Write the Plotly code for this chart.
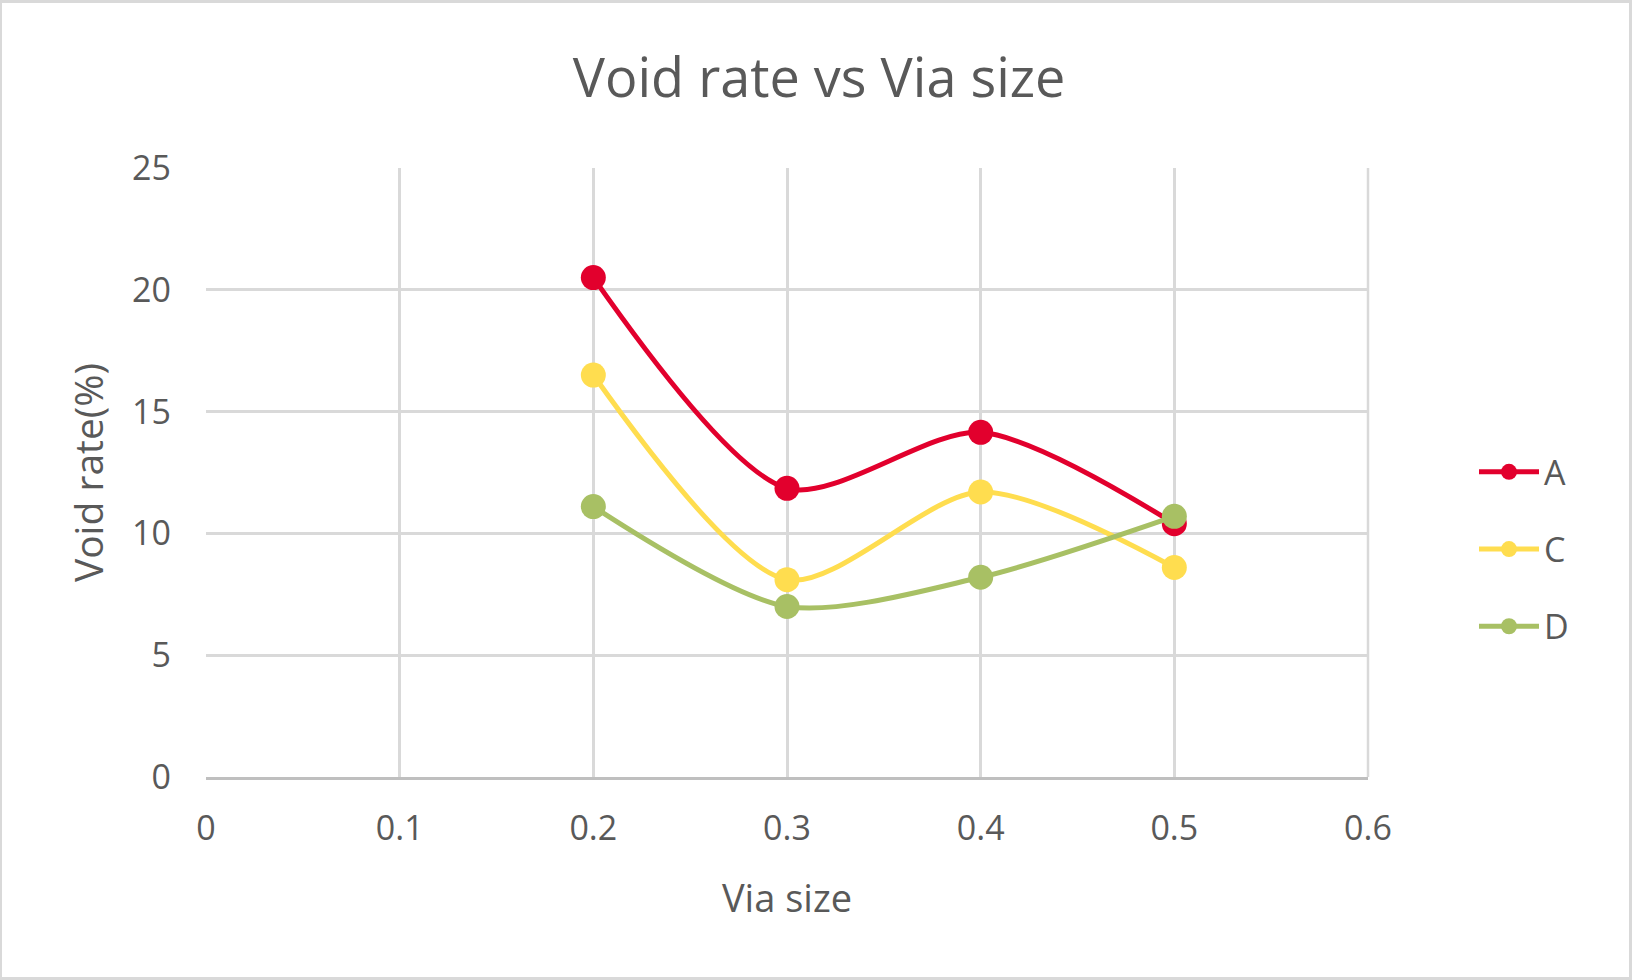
import plotly.graph_objects as go

# Via sizes and measured void rates (%) for each sample group
via_size = [0.2, 0.3, 0.4, 0.5]
void_a = [20.5, 11.85, 14.15, 10.4]
void_c = [16.5, 8.1, 11.7, 8.6]
void_d = [11.1, 7.0, 8.2, 10.7]

series = [
    ("A", void_a, "#E2002D"),
    ("C", void_c, "#FFDD4F"),
    ("D", void_d, "#A8C064"),
]

W, H = 1632, 980
ML, MR, MT, MB = 206, 264, 168, 203
TEXT = "#595959"
GRID = "#D9D9D9"
FONT = "Open Sans"

fig = go.Figure()
for name, vals, color in series:
    fig.add_trace(go.Scatter(
        x=via_size, y=vals, name=name, legendgroup=name,
        mode="lines+markers",
        line=dict(color=color, width=5, shape="spline", smoothing=0.8),
        marker=dict(color=color, size=25),
    ))

pw = W - ML - MR
ph = H - MT - MB

fig.update_layout(
    width=W, height=H,
    margin=dict(l=ML, r=MR, t=MT, b=MB),
    paper_bgcolor="white", plot_bgcolor="white",
    font=dict(family=FONT, color=TEXT, size=34),
    title=dict(text="Void rate vs Via size", x=(787 * 1.0408) / W, xanchor="center",
               y=1 - 78 / H, yanchor="middle",
               font=dict(family=FONT, size=54, color=TEXT)),
    xaxis=dict(range=[0, 0.6], dtick=0.1, tick0=0, showgrid=True, gridcolor=GRID,
               gridwidth=2.5, zeroline=False, showline=True, linecolor="#BFBFBF",
               linewidth=3, ticks="", ticklabelstandoff=19,
               tickfont=dict(size=34),
               title=dict(text="Via size", font=dict(size=38), standoff=37)),
    yaxis=dict(range=[0, 25], dtick=5, tick0=0, showgrid=True, gridcolor=GRID,
               gridwidth=2.5, zeroline=False, showline=False, ticks="",
               ticklabelstandoff=34, tickfont=dict(size=34),
               title=dict(text="Void rate(%)", font=dict(size=39), standoff=16)),
    legend=dict(x=1 + (1474 - (W - MR)) / pw, xanchor="left", y=0.374,
                yanchor="middle", tracegroupgap=30, font=dict(size=34),
                itemwidth=60, bgcolor="rgba(0,0,0,0)"),
    shapes=[
        # outer chart frame
        dict(type="rect", xref="paper", yref="paper",
             x0=-ML / pw + 0.5 / pw, x1=1 + MR / pw - 1.5 / pw,
             y0=-MB / ph + 1.5 / ph, y1=1 + MT / ph - 1.5 / ph,
             line=dict(color="#D9D9D9", width=3), layer="below"),
        # right-hand plot border
        dict(type="line", xref="paper", yref="paper", x0=1, x1=1, y0=0, y1=1,
             line=dict(color=GRID, width=2.5), layer="below"),
    ],
)

fig.write_html("out.html")
